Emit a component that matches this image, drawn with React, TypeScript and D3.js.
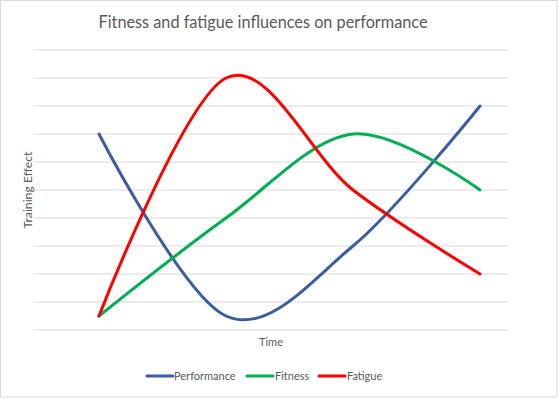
import React from "react";
import * as d3 from "d3";

const categories = [1, 2, 3, 4];
const performance = [7, 0.5, 3, 8];
const fitness = [0.5, 4, 7, 5];
const fatigue = [0.5, 9, 5, 2];
const yTicks = [0, 1, 2, 3, 4, 5, 6, 7, 8, 9, 10];
const seriesNames = ["Performance", "Fitness", "Fatigue"];
const seriesColors = ["#3A5DA2", "#00B050", "#FF0000"];

const W = 558;
const H = 398;

export default function App() {
  const x = d3.scaleLinear().domain([1, 4]).range([99, 480]);
  const y = d3.scaleLinear().domain([0, 10]).range([330, 50]);
  const line = d3
    .line<number>()
    .x((_, i) => x(categories[i]))
    .y((d) => y(d))
    .curve(d3.curveCatmullRom.alpha(0));
  const series = [performance, fitness, fatigue];
  const font = "Lato, 'Open Sans', sans-serif";
  const textColor = "#595959";
  const legend = [
    { lx: 147, tx: 174 },
    { lx: 247, tx: 275 },
    { lx: 319, tx: 347 },
  ];
  return (
    <svg
      width={W}
      height={H}
      style={{ position: "absolute", left: 0, top: 0, background: "#fff" }}
    >
      <rect x={0.5} y={0.5} width={W - 1.5} height={H - 1.5} fill="#fff" stroke="#D9D9D9" />
      <text
        x={263}
        y={28}
        textAnchor="middle"
        fontFamily={font}
        fontSize={16.5}
        fill={textColor}
        textLength={329}
        lengthAdjust="spacingAndGlyphs"
      >
        Fitness and fatigue influences on performance
      </text>
      {yTicks.map((t) => (
        <line key={t} x1={33} x2={509} y1={y(t)} y2={y(t)} stroke="#D9D9D9" strokeWidth={1} />
      ))}
      <text
        transform={`translate(32,${190}) rotate(-90)`}
        textAnchor="middle"
        fontFamily={font}
        fontSize={11}
        fill={textColor}
        textLength={77}
        lengthAdjust="spacingAndGlyphs"
      >
        Training Effect
      </text>
      <text x={271} y={346} textAnchor="middle" fontFamily={font} fontSize={11} fill={textColor}>
        Time
      </text>
      {series.map((s, i) => (
        <path
          key={i}
          d={line(s) || ""}
          fill="none"
          stroke={seriesColors[i]}
          strokeWidth={3}
          strokeLinecap="round"
          strokeLinejoin="round"
        />
      ))}
      {seriesNames.map((n, i) => (
        <g key={n}>
          <line
            x1={legend[i].lx}
            x2={legend[i].lx + 26}
            y1={376}
            y2={376}
            stroke={seriesColors[i]}
            strokeWidth={3}
            strokeLinecap="round"
          />
          <text x={legend[i].tx} y={380} fontFamily={font} fontSize={11} fill={textColor}>
            {n}
          </text>
        </g>
      ))}
    </svg>
  );
}
